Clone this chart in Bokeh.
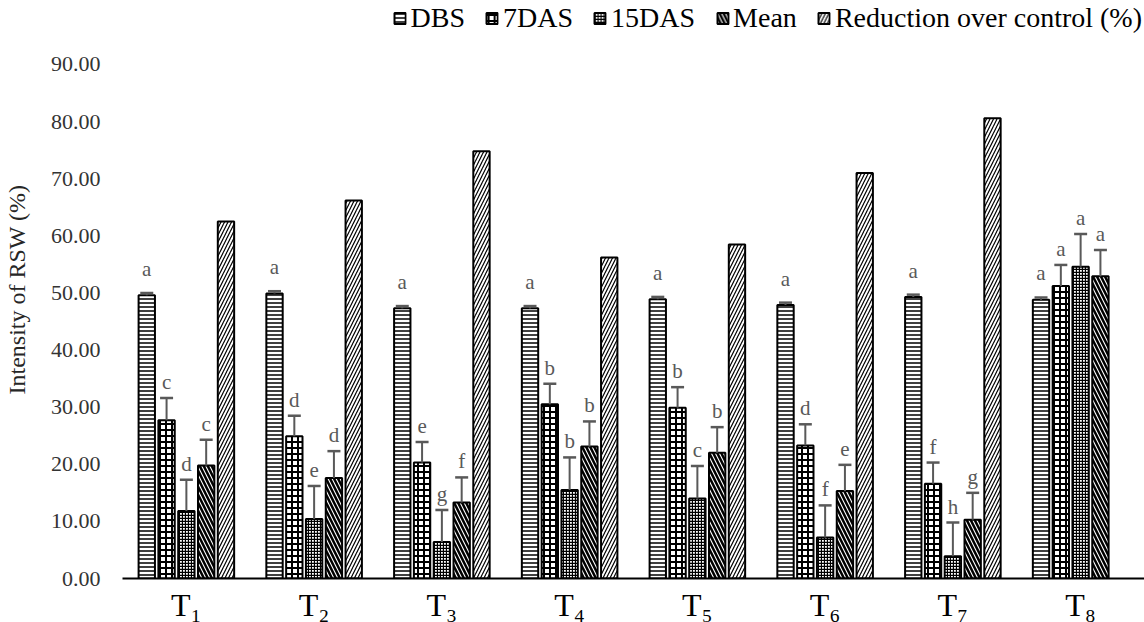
from bokeh.plotting import figure
from bokeh.models import (ColumnDataSource, FactorRange, Range1d, FixedTicker,
                          PrintfTickFormatter, Whisker, TeeHead, LabelSet, Legend,
                          LegendItem)
from bokeh.transform import dodge
from bokeh.core.properties import value
from bokeh.embed import file_html
from bokeh.resources import INLINE

# ---------------- data ----------------
treatments = ["T\u2081", "T\u2082", "T\u2083", "T\u2084", "T\u2085", "T\u2086", "T\u2087", "T\u2088"]
series_names = ["DBS", "7DAS", "15DAS", "Mean", "Reduction over control (%)"]

dbs       = [49.6, 49.9, 47.3, 47.3, 48.9, 47.9, 49.3, 48.8]
das7      = [27.7, 24.9, 20.3, 30.5, 29.9, 23.3, 16.6, 51.2]
das15     = [11.8, 10.4, 6.4, 15.5, 14.0, 7.2, 3.9, 54.6]
mean_v    = [19.8, 17.6, 13.3, 23.1, 22.0, 15.3, 10.3, 52.9]
reduction = [62.5, 66.2, 74.8, 56.2, 58.5, 71.0, 80.6, float("nan")]

err_dbs   = [0.4, 0.4, 0.4, 0.4, 0.4, 0.4, 0.4, 0.4]
err_7     = [3.9, 3.6, 3.6, 3.6, 3.6, 3.7, 3.7, 3.7]
err_15    = [5.5, 5.8, 5.6, 5.7, 5.7, 5.6, 5.9, 5.7]
err_mean  = [4.5, 4.7, 4.4, 4.4, 4.5, 4.6, 4.7, 4.6]

let_dbs   = ["a", "a", "a", "a", "a", "a", "a", "a"]
let_7     = ["c", "d", "e", "b", "b", "d", "f", "a"]
let_15    = ["d", "e", "g", "b", "c", "f", "h", "a"]
let_mean  = ["c", "d", "f", "b", "b", "e", "g", "a"]

y_ticks = [0, 10, 20, 30, 40, 50, 60, 70, 80, 90]

# ---------------- source ----------------
src = ColumnDataSource(dict(
    cat=treatments,
    dbs=dbs, das7=das7, das15=das15, mean=mean_v, red=reduction,
    up_dbs=[v + e for v, e in zip(dbs, err_dbs)],
    up_7=[v + e for v, e in zip(das7, err_7)],
    up_15=[v + e for v, e in zip(das15, err_15)],
    up_mean=[v + e for v, e in zip(mean_v, err_mean)],
    l_dbs=let_dbs, l_7=let_7, l_15=let_15, l_mean=let_mean,
))

FONT = "Liberation Serif"

p = figure(x_range=FactorRange(factors=treatments, range_padding=0),
           y_range=Range1d(0, 101.2),
           width=1144, height=632,
           output_backend="svg", toolbar_location=None,
           min_border_left=122, min_border_right=0,
           min_border_top=0, min_border_bottom=54)
p.outline_line_color = None
p.xgrid.grid_line_color = None
p.ygrid.grid_line_color = None
p.background_fill_color = "white"
p.border_fill_color = "white"

step = 0.155
bw = 0.128
offsets = [-2 * step, -step, 0.0, step, 2 * step]
cols = ["dbs", "das7", "das15", "mean", "red"]
styles = [
    dict(hatch_pattern=value("horizontal_line"), hatch_scale=4, hatch_weight=1.5),
    dict(hatch_pattern=value("cross"), hatch_scale=6, hatch_weight=2),
    dict(hatch_pattern=value("cross"), hatch_scale=3, hatch_weight=1.3),
    dict(hatch_pattern=value("left_diagonal_line"), hatch_scale=8, hatch_weight=2.5),
    dict(hatch_pattern=value("right_diagonal_line"), hatch_scale=7, hatch_weight=1.2),
]

renderers = []
for col, off, st in zip(cols, offsets, styles):
    r = p.vbar(x=dodge("cat", off, range=p.x_range), top=col, width=bw, bottom=0,
               source=src, fill_color="white", line_color="black", line_width=2,
               hatch_color="black", **st)
    renderers.append(r)

# ---------------- error bars ----------------
err_cols = [("dbs", "up_dbs", offsets[0]), ("das7", "up_7", offsets[1]),
            ("das15", "up_15", offsets[2]), ("mean", "up_mean", offsets[3])]
for low, up, off in err_cols:
    w = Whisker(base=dodge("cat", off, range=p.x_range), upper=up, lower=low,
                source=src, dimension="height", line_color="#595959", line_width=2,
                upper_head=TeeHead(size=13, line_color="#595959", line_width=2.5),
                lower_head=None, level="overlay")
    p.add_layout(w)

# ---------------- letters ----------------
lab_cols = [("up_dbs", "l_dbs", offsets[0], 17), ("up_7", "l_7", offsets[1], 9),
            ("up_15", "l_15", offsets[2], 9), ("up_mean", "l_mean", offsets[3], 9)]
for ycol, tcol, off, yo in lab_cols:
    ls = LabelSet(x=dodge("cat", off, range=p.x_range), y=ycol, text=tcol, source=src,
                  y_offset=yo, text_align="center", text_baseline="alphabetic",
                  text_font=value(FONT), text_font_size=value("21px"),
                  text_color="#595959")
    p.add_layout(ls)

# ---------------- axes ----------------
p.yaxis.ticker = FixedTicker(ticks=y_ticks)
p.yaxis.formatter = PrintfTickFormatter(format="%.2f")
p.yaxis.axis_line_color = None
p.yaxis.major_tick_line_color = None
p.yaxis.minor_tick_line_color = None
p.yaxis.major_tick_out = 0
p.yaxis.major_label_standoff = 22
p.yaxis.major_label_text_font = FONT
p.yaxis.major_label_text_font_size = "22px"
p.yaxis.major_label_text_color = "#333333"
p.yaxis.axis_label = "Intensity of RSW (%)"
p.yaxis.axis_label_text_font = FONT
p.yaxis.axis_label_text_font_size = "24px"
p.yaxis.axis_label_text_font_style = "normal"
p.yaxis.axis_label_text_color = "#262626"
p.yaxis.axis_label_standoff = 18

p.xaxis.axis_line_color = "black"
p.xaxis.axis_line_width = 2
p.xaxis.major_tick_line_color = None
p.xaxis.minor_tick_line_color = None
p.xaxis.major_tick_out = 0
p.xaxis.major_label_standoff = 8
p.xaxis.major_label_text_font = FONT
p.xaxis.major_label_text_font_size = "32px"
p.xaxis.major_label_text_color = "black"

# ---------------- legend ----------------
legend = Legend(items=[LegendItem(label=n, renderers=[r]) for n, r in zip(series_names, renderers)],
                orientation="horizontal", location="top_right",
                label_text_font=FONT, label_text_font_size="28px", label_text_color="black",
                glyph_width=14, glyph_height=14, spacing=20, label_standoff=4,
                padding=0, margin=2, border_line_color=None, background_fill_alpha=0)
p.add_layout(legend)

open("out.html", "w").write(file_html(p, INLINE))
